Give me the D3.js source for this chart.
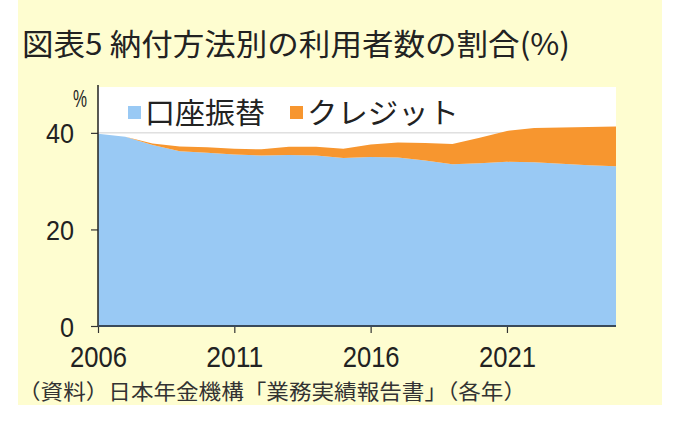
<!DOCTYPE html>
<html><head><meta charset="utf-8">
<script src="https://cdn.jsdelivr.net/npm/d3@7"></script>
<style>html,body{margin:0;padding:0;background:#fff;}svg{display:block;}</style>
</head><body>
<svg id="c" width="680" height="422"></svg>
<script>
const years = [2006,2007,2008,2009,2010,2011,2012,2013,2014,2015,2016,2017,2018,2019,2020,2021,2022,2023,2024,2025];
const furikae = [39.8,39.2,37.5,36.2,35.9,35.5,35.3,35.4,35.3,34.8,35.0,34.9,34.3,33.5,33.7,34.0,33.9,33.6,33.3,33.1];
const credit  = [0.0,0.0,0.3,1.0,1.1,1.2,1.3,1.7,1.8,1.9,2.6,3.1,3.6,4.2,5.3,6.4,7.1,7.5,7.9,8.2];
const seriesNames = ["口座振替","クレジット"];
const yTicks = [0,20,40];
const xTicks = [2006,2011,2016,2021];
const title = "図表5  納付方法別の利用者数の割合(%)";
const source = "（資料）日本年金機構「業務実績報告書」（各年）";

const svg = d3.select("#c");
const FONT = "'Noto Sans CJK JP','Noto Sans',sans-serif";
const NUMFONT = "'Liberation Sans','DejaVu Sans',sans-serif";
const L = 98, R = 616, T = 87, B = 326;

svg.append("rect").attr("x",18).attr("y",0).attr("width",644).attr("height",405).attr("fill","#fefdd0");

const x = d3.scaleLinear().domain([2006,2025]).range([L,R]);
const y = d3.scaleLinear().domain([0,49.5]).range([B,T]);

svg.append("rect").attr("x",L).attr("y",T).attr("width",R-L).attr("height",B-T).attr("fill","#fff");

svg.append("g").selectAll("line").data(yTicks.filter(d=>d>0)).join("line")
  .attr("x1",L).attr("x2",R).attr("y1",d=>y(d)).attr("y2",d=>y(d))
  .attr("stroke","#cfcfcf").attr("stroke-width",1);

const data = years.map((yr,i)=>({year:yr, a:furikae[i], b:credit[i]}));
const stack = d3.stack().keys(["a","b"])(data);
const colors = ["#99c9f4","#f7962f"];
const area = d3.area().x(d=>x(d.data.year)).y0(d=>y(d[0])).y1(d=>y(d[1]));
svg.append("g").selectAll("path").data(stack).join("path")
  .attr("d",area).attr("fill",(d,i)=>colors[i]);

// axes
const yAxis = d3.axisLeft(y).tickValues(yTicks).tickSize(7).tickFormat(d3.format("d"));
const gy = svg.append("g").attr("transform",`translate(${L},0)`).call(yAxis);
gy.select(".domain").remove();
gy.selectAll(".tick line").attr("stroke","#333").attr("stroke-width",1.2);
gy.selectAll(".tick text").attr("font-family",NUMFONT)
  .attr("font-size",28).attr("fill","#222").attr("x",-24).attr("dy","0.36em")
  .attr("textLength",d=>String(d).length*14).attr("lengthAdjust","spacingAndGlyphs");
svg.append("line").attr("x1",L).attr("x2",L).attr("y1",T-2).attr("y2",B).attr("stroke","#222").attr("stroke-width",1.5);

const xAxis = d3.axisBottom(x).tickValues(xTicks).tickSize(7).tickFormat(d3.format("d"));
const gx = svg.append("g").attr("transform",`translate(0,${B})`).call(xAxis);
gx.select(".domain").remove();
gx.selectAll(".tick line").attr("stroke","#333").attr("stroke-width",1.2);
gx.selectAll(".tick text").attr("font-family",NUMFONT)
  .attr("font-size",30).attr("fill","#222").attr("y",41).attr("dy",0)
  .attr("textLength",57).attr("lengthAdjust","spacingAndGlyphs");
svg.append("line").attr("x1",L).attr("x2",R).attr("y1",B).attr("y2",B).attr("stroke","#3a4a5a").attr("stroke-width",2);

svg.append("text").attr("x",80).attr("y",107).attr("text-anchor","middle")
  .attr("font-family",NUMFONT).attr("font-size",23).attr("fill","#222")
  .attr("textLength",14).attr("lengthAdjust","spacingAndGlyphs").text("%");

// legend
const leg = svg.append("g");
const legX = [128,290];
const legW = [120,152];
seriesNames.forEach((n,i)=>{
  leg.append("rect").attr("x",legX[i]).attr("y",106).attr("width",13).attr("height",13).attr("fill",colors[i]);
  leg.append("text").attr("x",legX[i]+17).attr("y",124).attr("font-family",FONT)
    .attr("font-size",29).attr("fill","#222").attr("textLength",legW[i]).attr("lengthAdjust","spacingAndGlyphs").text(n);
});

svg.append("text").attr("x",22).attr("y",55).attr("font-family",FONT).attr("font-size",30)
  .attr("fill","#222").attr("textLength",548).attr("lengthAdjust","spacingAndGlyphs").text(title);

svg.append("text").attr("x",18).attr("y",399).attr("font-family",FONT).attr("font-size",21)
  .attr("fill","#333").attr("textLength",508).attr("lengthAdjust","spacingAndGlyphs").text(source);
</script>
</body></html>
